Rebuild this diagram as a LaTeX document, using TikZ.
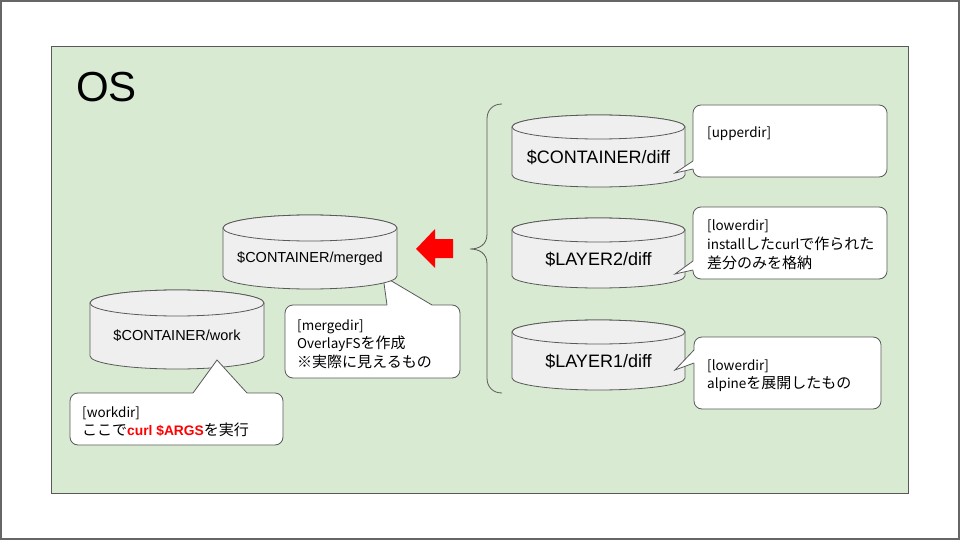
\documentclass[tikz,border=0pt]{standalone}
\usepackage{fontspec}
\setmainfont{Liberation Sans}
\newfontfamily\jp{Noto Sans CJK JP}
\definecolor{osgreen}{HTML}{D9EAD3}
\definecolor{cylgray}{HTML}{EFEFEF}
\definecolor{linegray}{HTML}{595959}
\definecolor{framegray}{HTML}{666666}
\definecolor{hotred}{HTML}{FF0000}
\newcommand\J[1]{{\fontsize{15}{16}\selectfont #1}}
\newcommand\mycyl[7]{%
  \pgfmathsetmacro\cylcx{(#2+#3)/2}%
  \pgfmathsetmacro\cylrx{(#3-#2)/2}%
  \filldraw[cyl] (#2,#4) -- (#2,#5) arc[start angle=180,end angle=0,x radius=\cylrx,y radius=#6] -- (#3,#4) arc[start angle=0,end angle=-180,x radius=\cylrx,y radius=#6] -- cycle;
  \draw[cyl] (\cylcx,#4) ellipse[x radius=\cylrx, y radius=#6];
  \node[cyltext] (#1) at (\cylcx,{(#4+#5+#6)/2}) {#7};
}
\begin{document}
\begin{tikzpicture}[x=1pt,y=-1pt,
  cyl/.style={draw=linegray, fill=cylgray, line width=0.8pt},
  cyltext/.style={inner sep=0pt, text=black},
  callbox/.style={draw=linegray, fill=white, line width=0.8pt, rounded corners=8pt},
  callline/.style={draw=linegray, line width=0.8pt, line join=miter},
  calltext/.style={anchor=base west, inner sep=0pt, font=\jp\fontsize{13.5}{16}\selectfont}
]
\useasboundingbox (0,0) rectangle (960,540);
% outer frame
\fill[white] (0,0) rectangle (960,540);
\draw[framegray, line width=2pt] (1,1) rectangle (959,539);
% OS box
\draw[linegray, fill=osgreen, line width=0.8pt] (51,46) rectangle (908,493);
\node[anchor=base west, inner sep=0pt, font=\fontsize{42}{46}\selectfont] (os) at (76,102) {OS};

% mergedir callout (under merged cylinder)
\draw[callbox] (285,305) rectangle (460,378);
\fill[white] (387,307) -- (387,305) -- (383,276) -- (432,305) -- (432,307) -- cycle;
\draw[callline] (387,305) -- (383,276) -- (432,305);
\node[calltext] (m1) at (297,330) {[mergedir]};
\node[calltext] (m2) at (297,348.5) {OverlayFS\J{を作成}};
\node[calltext] (m3) at (297,367) {\J{※実際に見えるもの}};

% cylinders
\mycyl{merged}{223}{397}{228}{276}{13}{\fontsize{14.5}{16}\selectfont \$CONTAINER/merged}
\mycyl{work}{90}{264}{303}{356}{13}{\fontsize{14.5}{16}\selectfont \$CONTAINER/work}
\mycyl{cdiff}{512}{685}{127}{175}{12}{\fontsize{18}{20}\selectfont \$CONTAINER/diff}
\mycyl{l2diff}{512}{685}{230}{276}{12}{\fontsize{18}{20}\selectfont \$LAYER2/diff}
\mycyl{l1diff}{512}{685}{332}{378}{12}{\fontsize{18}{20}\selectfont \$LAYER1/diff}

% workdir callout (over work cylinder)
\draw[callbox] (70,393) rectangle (283,445);
\fill[white] (193,395) -- (193,393) -- (217,360) -- (247,393) -- (247,395) -- cycle;
\draw[callline] (193,393) -- (217,360) -- (247,393);
\node[calltext] (w1) at (82,417) {[workdir]};
\node[calltext] (w2) at (82,435.5) {\J{ここで}{\fontspec{Liberation Sans}\fontsize{13.8}{16}\selectfont\bfseries\color{hotred}curl \$ARGS}\J{を実行}};

% upperdir callout
\draw[callbox] (693,105) rectangle (887,177);
\fill[white] (695,161) -- (693,161) -- (675,173) -- (693,169) -- (695,169) -- cycle;
\draw[callline] (693,161) -- (675,173) -- (693,169);
\node[calltext] (u1) at (707,138) {[upperdir]};

% lowerdir (layer2) callout
\draw[callbox] (693,207) rectangle (887,279);
\fill[white] (695,261) -- (693,261) -- (675,274) -- (693,270) -- (695,270) -- cycle;
\draw[callline] (693,261) -- (675,274) -- (693,270);
\node[calltext] (a1) at (707,230) {[lowerdir]};
\node[calltext] (a2) at (707,249) {install\J{した}curl\J{で作られた}};
\node[calltext] (a3) at (707,268) {\J{差分のみを格納}};

% lowerdir (layer1) callout
\draw[callbox] (694,337) rectangle (881,409);
\fill[white] (696,350) -- (694,350) -- (675,370) -- (694,363) -- (696,363) -- cycle;
\draw[callline] (694,350) -- (675,370) -- (694,363);
\node[calltext] (b1) at (707,370) {[lowerdir]};
\node[calltext] (b2) at (707,388) {alpine\J{を展開したもの}};

% brace
\draw[linegray, line width=0.8pt] (502,104) .. controls (493,104) and (487,110) .. (487,119)
  -- (487,234) .. controls (487,245) and (479,249) .. (470,249)
  .. controls (479,249) and (487,253) .. (487,264)
  -- (487,378) .. controls (487,387) and (493,393) .. (502,393);
\coordinate (bracetip) at (470,249);

% red arrow
\fill[hotred] (416,249) -- (435,229) -- (435,239) -- (453,239) -- (453,258) -- (435,258) -- (435,268) -- cycle;
\end{tikzpicture}
\end{document}
